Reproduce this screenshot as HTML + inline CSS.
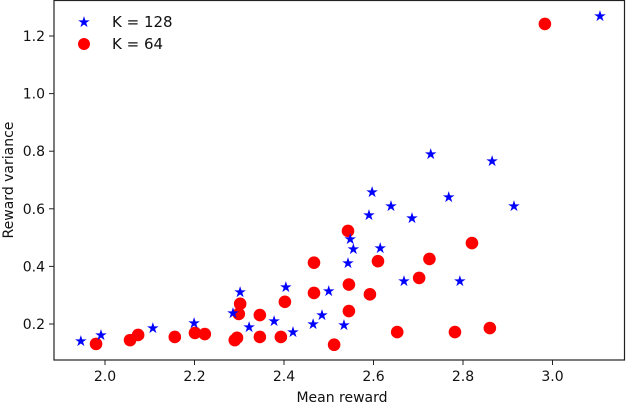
<!DOCTYPE html>
<html><head><meta charset="utf-8"><style>
body{margin:0;background:#fff;}
svg{display:block;font-family:"DejaVu Sans","Liberation Sans",sans-serif;}
</style></head><body>
<svg id="chart" width="626" height="404" viewBox="0 0 626 404">
<rect x="54" y="0.5" width="570.5" height="359.5" fill="none" stroke="#222" stroke-width="1.2"/>
<g id="axes"></g>
<g id="marks"></g>
<g>
<text x="84" y="22" fill="#0000ff" font-size="15" text-anchor="middle" dominant-baseline="central">★</text>
<text x="112" y="27" font-size="15" fill="#111">K = 128</text>
<circle cx="84" cy="44" r="6" fill="#ff0000"/>
<text x="112" y="49" font-size="15" fill="#111">K = 64</text>
</g>
<text x="342" y="402" font-size="14" text-anchor="middle" fill="#111">Mean reward</text>
<text x="0" y="0" font-size="14" text-anchor="middle" fill="#111" transform="translate(13,180) rotate(-90)">Reward variance</text>
</svg>
<script>
const xTicks=[2.0,2.2,2.4,2.6,2.8,3.0];
const xTickLabels=["2.0","2.2","2.4","2.6","2.8","3.0"];
const yTicks=[0.2,0.4,0.6,0.8,1.0,1.2];
const yTickLabels=["0.2","0.4","0.6","0.8","1.0","1.2"];
const k128X=[1.946,1.991,2.107,2.199,2.286,2.302,2.322,2.378,2.404,2.42,2.465,2.485,2.5,2.534,2.543,2.548,2.555,2.59,2.597,2.615,2.639,2.668,2.686,2.728,2.768,2.793,2.865,2.914,3.106];
const k128Y=[0.141,0.162,0.186,0.203,0.238,0.311,0.19,0.21,0.328,0.172,0.2,0.231,0.315,0.197,0.412,0.495,0.46,0.578,0.658,0.464,0.61,0.349,0.568,0.79,0.641,0.349,0.766,0.61,1.27];
const k64X=[1.98,2.056,2.074,2.156,2.201,2.223,2.29,2.295,2.299,2.302,2.346,2.346,2.393,2.402,2.467,2.467,2.512,2.543,2.545,2.545,2.592,2.61,2.653,2.702,2.725,2.782,2.82,2.86,2.983];
const k64Y=[0.131,0.144,0.162,0.155,0.169,0.165,0.144,0.152,0.235,0.27,0.231,0.155,0.155,0.277,0.413,0.308,0.128,0.523,0.337,0.245,0.303,0.418,0.172,0.36,0.426,0.172,0.481,0.186,1.242];
const NS='http://www.w3.org/2000/svg';
function xs(v){return 105+(v-2.0)*447.5;}
function ys(v){return 324-(v-0.2)*288;}
const axes=document.getElementById('axes'),marks=document.getElementById('marks');
function mk(tag,attrs,parent){const e=document.createElementNS(NS,tag);for(const k in attrs)e.setAttribute(k,attrs[k]);parent.appendChild(e);return e;}
xTicks.forEach((t,i)=>{
 const l=mk('line',{x1:xs(t),x2:xs(t),y1:360,y2:365,stroke:'#222'},axes);
 
 
 const tx=mk('text',{x:xs(t),y:381,'font-size':14,'text-anchor':'middle',fill:'#111'},axes);
 tx.textContent=xTickLabels[i];
 
 
});
yTicks.forEach((t,i)=>{
 const l=mk('line',{x1:49,x2:54,y1:ys(t),y2:ys(t),stroke:'#222'},axes);
 
 
 const tx=mk('text',{x:45,y:ys(t)+5,'font-size':14,'text-anchor':'end',fill:'#111'},axes);
 tx.textContent=yTickLabels[i];
 
 
});
k64X.forEach((x,i)=>{
 const c=mk('circle',{cx:xs(x),cy:ys(k64Y[i]),r:6.3,fill:'#ff0000'},marks);
 
 
});
k128X.forEach((x,i)=>{
 const s=mk('text',{x:xs(x),y:ys(k128Y[i]),'font-size':15,fill:'#0000ff','text-anchor':'middle','dominant-baseline':'central'},marks);
 s.textContent='★';
 
 
});
</script>
</body></html>
